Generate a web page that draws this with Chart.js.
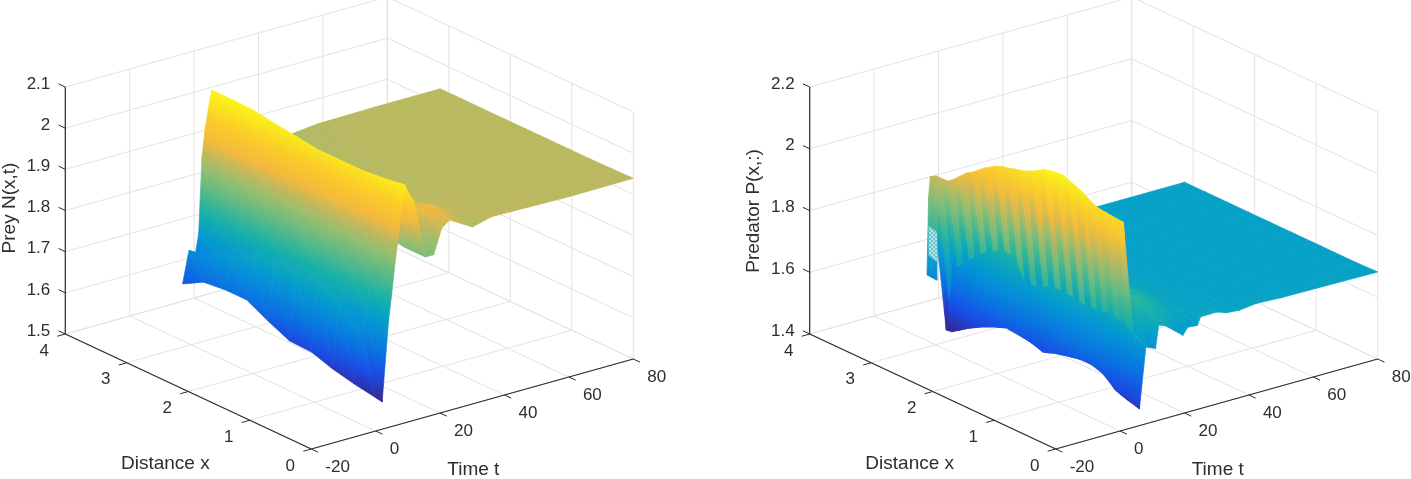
<!DOCTYPE html>
<html><head><meta charset="utf-8">
<style>html,body{margin:0;padding:0;background:#fff}canvas{position:absolute;top:0;filter:blur(.35px)}</style>
<script src="https://cdn.jsdelivr.net/npm/chart.js@4"></script></head>
<body>
<canvas id="prey" width="705" height="479" style="left:0;width:705px;height:479px"></canvas>
<canvas id="pred" width="706" height="479" style="left:705px;width:706px;height:479px"></canvas>
<script>
const xTicks=[0,1,2,3,4];
const tTicks=[-20,0,20,40,60,80];
const preyZTicks=[1.5,1.6,1.7,1.8,1.9,2,2.1];
const predZTicks=[1.4,1.6,1.8,2,2.2];

const preyX=[0,.35,.7,1.05,1.4,1.75,2.1,2.45,2.8,3.14];
const preyT=[0,2,4,5,6,7,8,9,10,12,14,15.5,18,20.5,23,30,36,42,60,80];
const preyZ=[
[1.581,1.59,1.602,1.619,1.621,1.645,1.672,1.672,1.666,1.638],
[1.566,1.70,1.765,1.782,1.784,1.779,1.769,1.747,1.723,1.715],
[1.76,1.76,1.775,1.79,1.79,1.785,1.775,1.755,1.73,1.704],
[1.824,1.83,1.84,1.85,1.85,1.84,1.83,1.81,1.78,1.75],
[1.894,1.90,1.91,1.92,1.92,1.92,1.925,1.925,1.93,1.93],
[1.955,1.96,1.965,1.97,1.97,1.975,1.985,1.99,2.0,2.0],
[2.02,2.02,2.015,2.015,2.015,2.025,2.035,2.045,2.05,2.045],
[2.078,2.07,2.065,2.065,2.065,2.072,2.079,2.087,2.089,2.089],
[2.06,2.06,2.05,2.05,2.05,2.05,2.05,2.05,2.06,2.07],
[2.03,2.0,1.99,2.0,2.0,2.0,2.0,2.0,2.0,2.0],
[1.95,1.90,1.92,1.95,1.95,1.95,1.95,1.95,1.95,1.95],
[1.889,1.889,1.905,1.93,1.94,1.935,1.93,1.93,1.93,1.93],
[1.889,1.92,1.925,1.935,1.937,1.93,1.925,1.92,1.92,1.92],
[1.948,1.97,1.955,1.94,1.937,1.93,1.925,1.92,1.92,1.92],
[1.962,1.975,1.955,1.94,1.937,1.932,1.927,1.922,1.922,1.922],
[1.93,1.945,1.94,1.937,1.937,1.936,1.932,1.928,1.925,1.925],
[1.942,1.94,1.938,1.937,1.937,1.937,1.936,1.934,1.932,1.93],
[1.941,1.938,1.937,1.937,1.937,1.937,1.937,1.936,1.936,1.935],
[1.938,1.937,1.937,1.937,1.937,1.937,1.937,1.937,1.937,1.937],
[1.939,1.938,1.937,1.937,1.937,1.937,1.937,1.937,1.937,1.937]];

const wallX=[0,.098,.196,.295,.393,.491,.589,.687,.785,.884,.982,1.08,1.178,1.276,1.374,1.473,1.571,1.669,1.767,1.865,1.963,2.062,2.16,2.258,2.356,2.454,2.553,2.651,2.749,2.847,2.945,3.043,3.14];
const wallT=[1,6];
const wallZ=[
[2.074,2.075,2.077,2.079,2.081,2.087,2.10,2.111,2.119,2.128,2.135,2.133,2.13,2.125,2.114,2.102,2.092,2.086,2.081,2.075,2.071,2.063,2.051,2.039,2.023,2.007,1.995,1.976,1.957,1.942,1.94,1.94,1.928],
[1.454,1.461,1.465,1.471,1.479,1.499,1.512,1.522,1.525,1.527,1.524,1.52,1.516,1.511,1.506,1.498,1.492,1.499,1.505,1.508,1.511,1.513,1.515,1.508,1.50,1.491,1.482,1.471,1.46,1.448,1.434,1.42,1.417]];
const wallStripe=[.01,-.015,.02,-.03,.03,-.04,.05,-.06,.06,-.07,.07,-.06,.07,-.07,.06,-.08,.06,-.07,.07,-.06,.07,-.08,.06,-.07,.07,-.06,.07,-.07,.06,-.06,.05,-.04];

const lowerX=[0,.196,.393,.589,.785,.982,1.178,1.374,1.571,1.767,1.963,2.16,2.356,2.553,2.749,2.945,3.14];
const lowerT=[6,8];
const lowerZ=[
[1.454,1.465,1.479,1.512,1.525,1.524,1.516,1.506,1.492,1.505,1.511,1.515,1.50,1.482,1.46,1.434,1.417],
[1.649,1.669,1.693,1.701,1.695,1.69,1.698,1.705,1.697,1.679,1.673,1.742,1.744,1.719,1.691,1.646,1.606]];

const nubX=[2.98,3.06,3.14];
const nubT=[0,.5,1];
const nubZ=[[1.611,1.612,1.613],[1.918,1.89,1.863],[1.94,1.935,1.928]];

const backX=[0,.35,.7,1.05,1.4,1.75,2.1,2.45,2.8,3.14];
const backT=[8,11,12,14,19.5,21,24,25,30,33,37,42.5,50,80];
const backZ=[
[1.649,1.69,1.70,1.695,1.70,1.69,1.68,1.74,1.69,1.62],
[1.635,1.76,1.75,1.73,1.72,1.71,1.70,1.70,1.69,1.66],
[1.708,1.76,1.755,1.735,1.72,1.71,1.70,1.70,1.69,1.67],
[1.70,1.75,1.75,1.73,1.71,1.70,1.695,1.69,1.685,1.675],
[1.653,1.72,1.73,1.72,1.70,1.69,1.685,1.68,1.68,1.678],
[1.675,1.70,1.715,1.71,1.695,1.685,1.68,1.68,1.68,1.68],
[1.672,1.69,1.70,1.70,1.69,1.68,1.68,1.68,1.68,1.68],
[1.697,1.69,1.695,1.695,1.685,1.68,1.68,1.68,1.68,1.68],
[1.698,1.685,1.685,1.685,1.68,1.68,1.68,1.68,1.68,1.68],
[1.687,1.682,1.68,1.68,1.68,1.68,1.68,1.68,1.68,1.68],
[1.683,1.681,1.68,1.68,1.68,1.68,1.68,1.68,1.68,1.68],
[1.69,1.681,1.68,1.68,1.68,1.68,1.68,1.68,1.68,1.68],
[1.686,1.68,1.68,1.68,1.68,1.68,1.68,1.68,1.68,1.68],
[1.682,1.68,1.68,1.68,1.68,1.68,1.68,1.68,1.68,1.68]];

const hatchX=[3.14,3.0];
const hatchT=[.5,.5];
const hatchZ=[[1.772,1.763],[1.675,1.666]];

const colormap=[[0,52,40,145],[.1,25,75,230],[.2,10,115,225],[.3,5,145,215],[.36,5,160,200],[.45,25,178,165],[.55,90,185,135],[.65,150,190,110],[.71,189,184,95],[.78,245,185,60],[.88,250,205,40],[1,250,245,25]];

function cmap(f){
  f=Math.max(0,Math.min(1,f));
  for(let i=1;i<colormap.length;i++){
    if(f<=colormap[i][0]){
      const a=colormap[i-1],b=colormap[i],w=(f-a[0])/(b[0]-a[0]);
      return `rgb(${[1,2,3].map(k=>Math.round(a[k]+(b[k]-a[k])*w)).join(',')})`;
    }
  }
  return 'rgb(250,245,25)';
}

function makeProjector(ox,zmin,zmax){
  return (x,t,z)=>({x:ox+3.22*(t+20)+61.5*(4-x),y:334+28.75*(4-x)-.9*(t+20)-(z-zmin)*247/(zmax-zmin)});
}

function triGradient(chart,pts,cs,clim){
  const X=chart.scales.x,Y=chart.scales.y,ctx=chart.ctx;
  const p=pts.map(q=>[X.getPixelForValue(q.x),Y.getPixelForValue(q.y)]);
  if(!p.every(q=>Number.isFinite(q[0])&&Number.isFinite(q[1]))) return null;
  const f=v=>(v-clim[0])/(clim[1]-clim[0]);
  const cmin=Math.min(...cs),cmax=Math.max(...cs);
  const ux=p[1][0]-p[0][0],uy=p[1][1]-p[0][1],vx=p[2][0]-p[0][0],vy=p[2][1]-p[0][1];
  const det=ux*vy-uy*vx,du=cs[1]-cs[0],dv=cs[2]-cs[0];
  const cbar=(cs[0]+cs[1]+cs[2])/3;
  if(Math.abs(det)<.5||cmax-cmin<.0015) return cmap(f(cbar));
  const a=(du*vy-dv*uy)/det,b=(dv*ux-du*vx)/det,g=a*a+b*b;
  const bx=p[0][0],by=p[0][1],c0=cs[0];
  const g0=ctx.createLinearGradient(bx+a*(cmin-c0)/g,by+b*(cmin-c0)/g,bx+a*(cmax-c0)/g,by+b*(cmax-c0)/g);
  for(let i=0;i<=8;i++) g0.addColorStop(i/8,cmap(f(cmin+(cmax-cmin)*i/8)));
  return g0;
}

function triDataset(pts,cs,clim,label){
  let cache=null;
  const paint=c=>{
    if(cache) return cache;
    if(!c.chart.chartArea) return cmap((cs[0]-clim[0])/(clim[1]-clim[0]));
    cache=triGradient(c.chart,pts,cs,clim);
    return cache||cmap((cs[0]-clim[0])/(clim[1]-clim[0]));
  };
  return {label,data:[...pts,pts[0]],fill:'shape',backgroundColor:paint,borderColor:paint,borderWidth:.7,pointRadius:0,tension:0,borderJoinStyle:'round'};
}

function surface(proj,X,T,Z,clim,label,colorShift){
  const out=[];
  for(let j=0;j<T.length-1;j++) for(let i=0;i<X.length-1;i++){
    const corners=[[i,j],[i+1,j],[i+1,j+1],[i,j+1]];
    const pts=corners.map(([a,b])=>proj(X[a],T[b],Z[b][a]));
    const cs=corners.map(([a,b])=>Z[b][a]+(colorShift?colorShift(i,b):0));
    out.push(triDataset([pts[0],pts[1],pts[2]],[cs[0],cs[1],cs[2]],clim,label));
    out.push(triDataset([pts[0],pts[2],pts[3]],[cs[0],cs[2],cs[3]],clim,label));
  }
  return out;
}

function frame(proj,zT,zmin,zmax){
  const ds=[],line=(a,b,col,w)=>ds.push({label:'axis',data:[proj(...a),proj(...b)],borderColor:col,borderWidth:w,pointRadius:0,fill:false,tension:0});
  const dark='#2b2b2b',g='#e2e2e2';
  line([4,-20,zmin],[4,-20,zmax],dark,1.2);
  line([4,-20,zmin],[0,-20,zmin],dark,1.2);
  line([0,-20,zmin],[0,80,zmin],dark,1.2);
  zT.forEach(z=>line([4,-20,z],[4.11,-20,z],dark,1));
  xTicks.forEach(x=>line([x,-20,zmin],[x,-22.5,zmin],dark,1));
  tTicks.forEach(t=>line([0,t,zmin],[-.11,t,zmin],dark,1));
  xTicks.forEach(x=>{line([x,-20,zmin],[x,80,zmin],g,1);line([x,80,zmin],[x,80,zmax],g,1);});
  tTicks.forEach(t=>{line([0,t,zmin],[4,t,zmin],g,1);line([4,t,zmin],[4,t,zmax],g,1);});
  zT.forEach(z=>{line([4,-20,z],[4,80,z],g,1);line([4,80,z],[0,80,z],g,1);});
  return ds;
}

function labelsPlugin(proj,zT,zmin,yLabel,labelY){
  return {id:'labels',afterDraw(chart){
    const c=chart.ctx,X=chart.scales.x,Y=chart.scales.y;
    const px=p=>[X.getPixelForValue(p.x),Y.getPixelForValue(p.y)];
    c.save();c.fillStyle='#2e2e2e';c.textBaseline='middle';
    c.font='17px "Liberation Sans"';
    c.textAlign='right';
    zT.forEach(z=>{const [a,b]=px(proj(4,-20,z));c.fillText(String(z),a-15,b-3);});
    c.textAlign='center';
    xTicks.forEach(x=>{const [a,b]=px(proj(x,-20,zmin));c.fillText(String(x),a-21,b+17);});
    c.textAlign='left';
    tTicks.forEach(t=>{const [a,b]=px(proj(0,t,zmin));c.fillText(String(t),a+14,b+18);});
    c.font='19px "Liberation Sans"';
    const [fa,fb]=px(proj(0,-20,zmin));
    c.textAlign='center';c.fillText('Distance x',fa-146,fb+15);
    c.textAlign='left';c.fillText('Time t',fa+136,fb+21);
    const [za]=px(proj(4,-20,zmin));
    c.translate(za-56,labelY);c.rotate(-Math.PI/2);c.textAlign='center';c.fillText(yLabel,0,0);
    c.restore();
  }};
}

function build(id,w,ox,zT,yLabel,labelY,datasetsFor){
  const zmin=zT[0],zmax=zT[zT.length-1],proj=makeProjector(ox,zmin,zmax);
  const datasets=[...datasetsFor(proj),...frame(proj,zT,zmin,zmax)];
  new Chart(document.getElementById(id),{type:'line',data:{datasets},
    options:{responsive:false,animation:false,events:[],devicePixelRatio:1,layout:{padding:0},
      plugins:{legend:{display:false},tooltip:{enabled:false},title:{display:false}},
      scales:{x:{type:'linear',display:false,min:0,max:w},y:{type:'linear',display:false,min:0,max:479,reverse:true}}},
    plugins:[labelsPlugin(proj,zT,zmin,yLabel,labelY)]});
}

build('prey',705,65.3,preyZTicks,'Prey N(x,t)',208,proj=>surface(proj,preyX,preyT,preyZ,[1.575,2.089],'Prey N(x,t)'));

function hatchPattern(){
  const p=document.createElement('canvas');p.width=4;p.height=4;
  const c=p.getContext('2d');c.fillStyle='#6fc3cf';c.fillRect(0,0,4,4);
  c.fillStyle='#b5e3e8';c.fillRect(0,0,2,2);c.fillRect(2,2,2,2);
  return c.createPattern(p,'repeat');
}

build('pred',706,104.7,predZTicks,'Predator P(x,:)',211,proj=>{
  const clim=[1.42,2.135];
  const hp=[proj(hatchX[0],hatchT[0],hatchZ[0][0]),proj(hatchX[1],hatchT[0],hatchZ[0][1]),proj(hatchX[1],hatchT[1],hatchZ[1][1]),proj(hatchX[0],hatchT[1],hatchZ[1][0])];
  const hatch={label:'hatch',data:[...hp,hp[0]],fill:'shape',backgroundColor:hatchPattern(),borderWidth:0,pointRadius:0,tension:0};
  return [hatch,
    ...surface(proj,nubX,nubT,nubZ,clim,'Predator front'),
    ...surface(proj,lowerX,lowerT,lowerZ,clim,'Predator trough'),
    ...surface(proj,wallX,wallT,wallZ,clim,'Predator wall',(i,row)=>row===1?wallStripe[i]:0),
    ...surface(proj,backX,backT,backZ,clim,'Predator plateau')];
});
</script>
</body></html>
